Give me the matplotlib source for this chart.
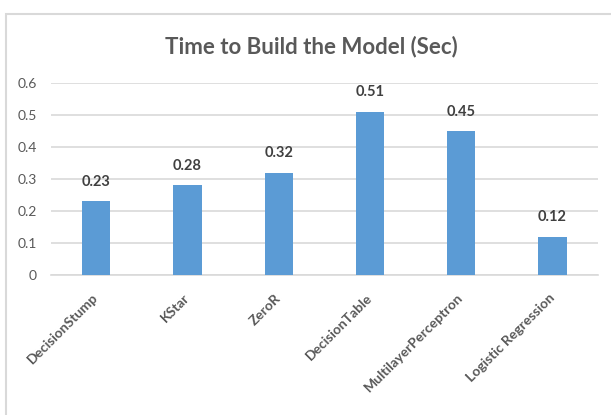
import matplotlib
matplotlib.use("Agg")
import matplotlib.pyplot as plt
from matplotlib.patches import Rectangle

categories = ["DecisionStump", "KStar", "ZeroR", "DecisionTable",
              "MultilayerPerceptron", "Logistic Regression"]
values = [0.23, 0.28, 0.32, 0.51, 0.45, 0.12]
yticks = [0, 0.1, 0.2, 0.3, 0.4, 0.5, 0.6]
title = "Time to Build the Model (Sec)"

plt.rcParams['font.family'] = ['Lato', 'DejaVu Sans']

W, H = 611, 415
fig = plt.figure(figsize=(W / 100, H / 100), dpi=100)
fig.patch.set_facecolor("white")

# outer chart border (cropped at right/bottom)
fig.patches.append(Rectangle((5.5 / W, -0.1), 1.2, 1 - 14 / H + 0.1,
                             transform=fig.transFigure, fill=False,
                             edgecolor="#d9d9d9", linewidth=1.5))

left, right = 50.7 / W, 598 / W
bottom, top = 1 - 275 / H, 1 - 83 / H
ax = fig.add_axes([left, bottom, right - left, top - bottom])

x = range(len(categories))
ax.bar(x, values, width=0.31, color="#5B9BD5", zorder=3)
ax.set_xlim(-0.5, len(categories) - 0.5)
ax.set_ylim(0, 0.6)
ax.set_yticks(yticks)
ax.set_yticklabels([f"{t:g}" for t in yticks], color="#595959", fontsize=10)
ax.yaxis.grid(True, color="#d9d9d9", linewidth=1.2, zorder=0)
ax.tick_params(axis="y", length=0, pad=10)
ax.tick_params(axis="x", length=0, pad=15)
ax.set_xticks(list(x))
ax.set_xticklabels(categories, rotation=45, ha="right", va="center",
                   rotation_mode="anchor", color="#595959",
                   fontsize=10, fontweight="bold")
for s in ["top", "right", "left"]:
    ax.spines[s].set_visible(False)
ax.spines["bottom"].set_color("#d9d9d9")
ax.spines["bottom"].set_linewidth(1.2)

for xi, v in zip(x, values):
    ax.annotate(f"{v:.2f}", (xi, v), xytext=(0, 9), textcoords="offset points",
                ha="center", va="bottom", fontsize=10.5, fontweight="bold",
                color="#404040")

fig.text(311 / W, 1 - 53.5 / H, title, ha="center", va="baseline",
         fontsize=16, color="#595959", fontweight="bold")

fig.savefig("out.png", dpi=100)
